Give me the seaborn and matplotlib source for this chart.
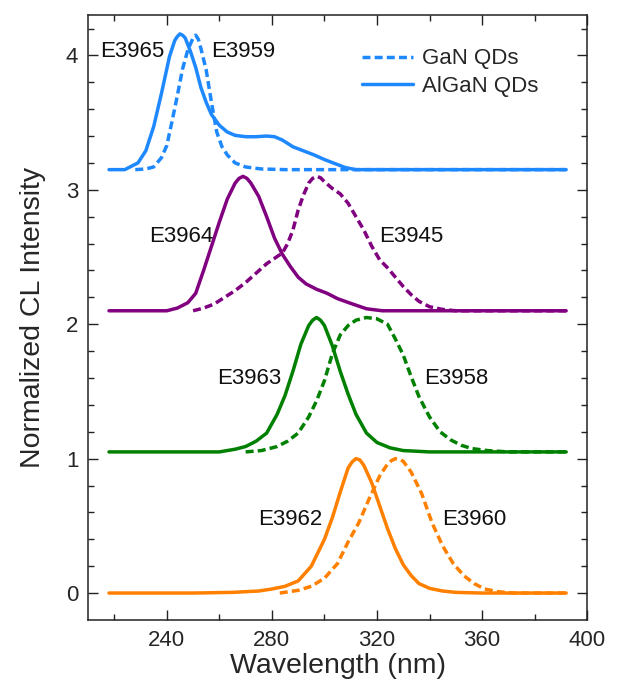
import numpy as np
import matplotlib
matplotlib.use("Agg")
import matplotlib.pyplot as plt
import seaborn as sns

# 各スペクトル (波長 nm, 規格化CL強度) - 図から読み取り
wl_e3962 = [218, 250, 265, 275, 280, 285, 290, 295, 300, 303, 306, 309, 310.5, 312, 313.5, 315, 318, 321,
            324, 327, 330, 333, 336, 340, 345, 350, 360, 392]
int_e3962 = [0, 0, 0.005, 0.015, 0.03, 0.05, 0.09, 0.2, 0.4, 0.56, 0.75, 0.93, 0.975, 1.0, 0.99, 0.95, 0.82, 0.65,
             0.48, 0.33, 0.21, 0.13, 0.07, 0.035, 0.015, 0.005, 0, 0]

wl_e3960 = [283, 290, 295, 300, 305, 309, 313, 317, 321, 324, 325.5, 327, 328.5, 330, 333, 337, 341, 345,
            349, 353, 357, 361, 366, 372, 392]
int_e3960 = [0, 0.02, 0.05, 0.11, 0.22, 0.38, 0.52, 0.7, 0.87, 0.96, 0.985, 1.0, 0.995, 0.98, 0.9, 0.74, 0.52, 0.35,
             0.22, 0.13, 0.07, 0.03, 0.01, 0, 0]

wl_e3963 = [218, 260, 266, 270, 274, 278, 282, 285, 288, 291, 294, 295.5, 297, 298.5, 300, 303, 306, 309,
            312, 316, 320, 325, 330, 340, 392]
int_e3963 = [0, 0, 0.02, 0.04, 0.08, 0.14, 0.28, 0.42, 0.6, 0.8, 0.94, 0.98, 1.0, 0.98, 0.94, 0.79, 0.6, 0.43,
             0.28, 0.14, 0.07, 0.03, 0.01, 0, 0]

wl_e3958 = [270, 276, 282, 286, 290, 294, 297, 300, 303, 306, 309, 312, 316, 320, 324, 327,
            330, 333, 336, 340, 344, 348, 352, 356, 362, 370, 392]
int_e3958 = [0, 0.01, 0.04, 0.08, 0.14, 0.26, 0.38, 0.53, 0.73, 0.87, 0.94, 0.98, 1.0, 0.99, 0.95, 0.84,
             0.72, 0.56, 0.41, 0.26, 0.15, 0.09, 0.05, 0.025, 0.01, 0, 0]

wl_e3964 = [218, 240, 244, 248, 251, 254, 257, 260, 263, 266, 267.5, 269, 270.5, 272, 275, 278, 281, 284,
            287, 290, 293, 297, 301, 305, 310, 316, 322, 392]
int_e3964 = [0, 0, 0.02, 0.06, 0.13, 0.3, 0.48, 0.66, 0.83, 0.95, 0.985, 1.0, 0.985, 0.95, 0.85, 0.7, 0.54, 0.42,
             0.33, 0.25, 0.2, 0.16, 0.13, 0.09, 0.055, 0.015, 0, 0]

wl_e3945 = [250, 254, 258, 262, 266, 270, 274, 278, 281, 284, 286, 288, 290, 292, 294, 295.5, 297, 298.5,
            300, 303, 306, 309, 312, 315, 318, 321, 324, 327, 330, 333, 336, 340, 345, 350, 392]
int_e3945 = [0, 0.02, 0.05, 0.1, 0.15, 0.21, 0.28, 0.35, 0.39, 0.43, 0.5, 0.6, 0.75, 0.86, 0.95, 0.985, 1.0, 0.99,
             0.96, 0.91, 0.87, 0.8, 0.7, 0.6, 0.48, 0.38, 0.32, 0.25, 0.18, 0.12, 0.07, 0.03, 0.01, 0, 0]

wl_e3965 = [218, 224, 226, 229, 232, 235, 238, 241, 243, 244, 245, 246, 247, 249, 251, 253, 255, 257,
            260, 263, 266, 270, 274, 278, 281, 284, 288, 292, 296, 300, 304, 308, 312, 392]
int_e3965 = [0, 0, 0.02, 0.05, 0.14, 0.32, 0.57, 0.84, 0.96, 0.99, 1.01, 1.0, 0.98, 0.88, 0.76, 0.61, 0.5, 0.41,
             0.33, 0.28, 0.255, 0.245, 0.245, 0.25, 0.245, 0.22, 0.17, 0.14, 0.11, 0.075, 0.045, 0.015, 0, 0]

wl_e3959 = [228, 232, 235, 238, 240, 242, 244, 246, 248, 250, 251, 252, 253, 255, 257, 259, 261,
            263, 266, 270, 276, 285, 392]
int_e3959 = [0, 0.005, 0.02, 0.09, 0.18, 0.36, 0.55, 0.75, 0.89, 0.98, 1.0, 0.97, 0.9, 0.74, 0.5, 0.28, 0.17,
             0.11, 0.05, 0.02, 0.005, 0, 0]

# 縦方向のオフセット
offsets = [0.0, 1.05, 2.1, 3.15]

# ラベル位置 (nm, 強度)
label_names = ["E3965", "E3959", "E3964", "E3945", "E3963", "E3958", "E3962", "E3960"]
label_x = [227, 269, 245.5, 333, 271.3, 350, 287, 357]
label_y = [4.03, 4.03, 2.65, 2.65, 1.595, 1.595, 0.55, 0.55]

colors = ["#FF8000", "#008000", "#800080", "#1E88FF"]

sns.set_style("ticks")
plt.rcParams['font.family'] = ['Liberation Sans', 'DejaVu Sans']

fig = plt.figure(figsize=(6.24, 6.85), dpi=100)
ax = fig.add_axes([0.141, 0.095, 0.800, 0.883])

# (AlGaN 実線, GaN 破線) の組
pairs = [
    (wl_e3962, int_e3962, wl_e3960, int_e3960),
    (wl_e3963, int_e3963, wl_e3958, int_e3958),
    (wl_e3964, int_e3964, wl_e3945, int_e3945),
    (wl_e3965, int_e3965, wl_e3959, int_e3959),
]

lw = 2.5
dash = (0, (2.3, 1.2))
for i, (wls, ints, wld, intd) in enumerate(pairs):
    off = offsets[i]
    is_top = (i == len(pairs) - 1)
    sns.lineplot(x=wld, y=np.array(intd) + off, ax=ax, color=colors[i], lw=lw,
                 linestyle=dash, label="GaN QDs" if is_top else None)
    sns.lineplot(x=wls, y=np.array(ints) + off, ax=ax, color=colors[i], lw=lw,
                 label="AlGaN QDs" if is_top else None)

for name, x, y in zip(label_names, label_x, label_y):
    ax.text(x, y, name, fontsize=16, ha='center', va='center', color='#111111')

ax.set_xlim(210, 400)
ax.set_ylim(-0.2, 4.3)
ax.set_xticks([240, 280, 320, 360, 400])
ax.set_xticks(np.arange(220, 400, 40), minor=True)
ax.set_yticks([0, 1, 2, 3, 4])
ax.set_yticks(np.arange(0.2, 4.3, 0.2), minor=True)
ax.tick_params(which='both', direction='in', top=True, right=True, width=1, color='#222222')
ax.tick_params(which='major', length=7.5, labelsize=16, pad=7)
ax.tick_params(which='minor', length=4)
for s in ax.spines.values():
    s.set_linewidth(1.1)
    s.set_color('#222222')

ax.set_xlabel("Wavelength (nm)", fontsize=20.5, labelpad=2)
ax.set_ylabel("Normalized CL Intensity", fontsize=20.5, labelpad=14)

ax.legend(loc='upper left', bbox_to_anchor=(0.548, 0.945), frameon=False, fontsize=16,
          borderpad=0, handlelength=2.3, handletextpad=0.4, labelspacing=0.3, borderaxespad=0)

fig.savefig("out.png", dpi=100)
